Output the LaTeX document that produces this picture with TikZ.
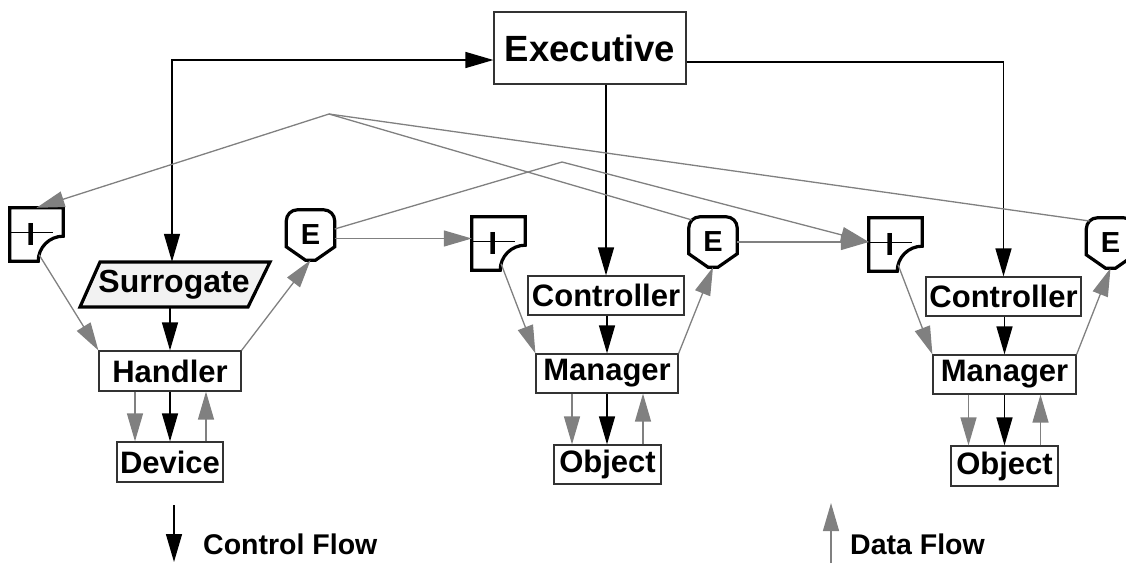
\documentclass[tikz,border=0pt]{standalone}
\usepackage{fontspec}
\setmainfont{Liberation Sans}
\usetikzlibrary{arrows.meta}
\definecolor{dgrey}{HTML}{808080}
\definecolor{sfill}{HTML}{F2F2F2}
\newcommand\fExec{\fontsize{36.5pt}{36.5pt}\selectfont\bfseries}
\newcommand\fLbl{\fontsize{31pt}{31pt}\selectfont\bfseries}
\newcommand\fSur{\fontsize{32pt}{32pt}\selectfont\bfseries}
\newcommand\fSym{\fontsize{29pt}{29pt}\selectfont\bfseries}
\newcommand\fIsym{\fontsize{32pt}{32pt}\selectfont\bfseries}
\newcommand\fLeg{\fontsize{28.5pt}{28.5pt}\selectfont\bfseries}
\tikzset{
  box/.style={draw=black!80, line width=1.2pt, inner sep=0pt, font=\fLbl},
  sym/.style={draw=black, line width=3.2pt},
  isym/.style={draw=none, inner sep=0pt, minimum width=53pt, minimum height=53pt},
  esym/.style={draw=none, inner sep=0pt, minimum width=48pt, minimum height=50pt, font=\fSym},
  ctl/.style={draw=black, line width=1.4pt, -{Triangle[length=28pt,width=16pt]}},
  ctlboth/.style={draw=black, line width=1.4pt, {Triangle[length=28pt,width=16pt]}-{Triangle[length=28pt,width=16pt]}},
  dat/.style={draw=dgrey, line width=1.3pt, -{Triangle[length=28pt,width=16pt]}},
  dline/.style={draw=dgrey, line width=1.3pt},
  leg/.style={inner sep=0pt, anchor=base west, font=\fLeg},
}
\newcommand\drawE[1]{%
  \draw[sym] ([yshift=-37pt]#1.north west) -- ([yshift=-11pt]#1.north west)
    arc[start angle=180,end angle=90,radius=11pt] -- ([xshift=-11pt]#1.north east)
    arc[start angle=90,end angle=0,radius=11pt] -- ([yshift=-37pt]#1.north east)
    -- ([xshift=5pt]#1.south) -- ([xshift=-5pt]#1.south) -- cycle;}
\newcommand\drawI[1]{%
  \draw[sym] (#1.north west) -- (#1.north east) -- ([yshift=25pt]#1.south east)
    arc[start angle=90,end angle=180,radius=25pt] -- (#1.south west) -- cycle;
  \draw[black, line width=1.2pt] ([yshift=-25pt]#1.north west) -- ([xshift=43pt,yshift=-25pt]#1.north west);
  \node[inner sep=0pt, font=\fIsym] (#1t) at ([xshift=21pt,yshift=-27pt]#1.north west) {I};}
\begin{document}
\begin{tikzpicture}[x=1pt,y=1pt]
\useasboundingbox (0,0) rectangle (1126,-563);
% boxes
\node[box, minimum width=192pt, minimum height=72pt, font=\fExec] (exec) at (590,-48) {Executive};
\node[box, minimum width=142pt, minimum height=40pt] (handler) at (170,-371) {Handler};
\node[box, minimum width=106pt, minimum height=40pt] (device) at (170,-462) {Device};
\node[box, minimum width=156pt, minimum height=39pt] (ctrl1) at (606,-295.5) {Controller};
\node[box, minimum width=142pt, minimum height=39pt] (mgr1) at (607,-373.5) {Manager};
\node[box, minimum width=107pt, minimum height=39pt] (obj1) at (607.5,-464.5) {Object};
\node[box, minimum width=155pt, minimum height=39pt] (ctrl2) at (1003.5,-296.5) {Controller};
\node[box, minimum width=143pt, minimum height=39pt] (mgr2) at (1004.5,-374.5) {Manager};
\node[box, minimum width=107pt, minimum height=40pt] (obj2) at (1004.5,-466) {Object};
% surrogate
\coordinate (surc) at (172,-284.5);
\draw[sym, fill=sfill] ([shift={(-72pt,22.5pt)}]surc) -- ([shift={(98pt,22.5pt)}]surc)
  -- ([shift={(76pt,-22.5pt)}]surc) -- ([shift={(-92pt,-22.5pt)}]surc) -- cycle;
\node[inner sep=0pt, minimum width=150pt, minimum height=45pt, font=\fSur] (sur) at ([xshift=2pt]surc) {Surrogate};
% input / export symbols
\node[isym] (i1) at (36.5,-234.5) {};
\node[isym] (i2) at (498.5,-243.5) {};
\node[isym] (i3) at (895.5,-244.5) {};
\drawI{i1}\drawI{i2}\drawI{i3}
\node[esym] (e1) at (310.5,-235) {E};
\node[esym] (e2) at (713,-242) {E};
\node[esym] (e3) at (1110.5,-243) {E};
\drawE{e1}\drawE{e2}\drawE{e3}
% control flow
\draw[ctlboth] ([yshift=-12pt]exec.west) -| (surc |- sur.north);
\draw[ctl] (exec.south -| ctrl1.north) -- (ctrl1.north);
\draw[ctl] ([yshift=-14pt]exec.east) -| (ctrl2.north);
\draw[ctl] (sur.south -| handler.north) -- (handler.north);
\draw[ctl] (handler.south) -- (device.north);
\draw[ctl] (mgr1.north |- ctrl1.south) -- (mgr1.north);
\draw[ctl] (mgr1.south) -- (mgr1.south |- obj1.north);
\draw[ctl] (mgr2.north |- ctrl2.south) -- (mgr2.north);
\draw[ctl] (mgr2.south) -- (mgr2.south |- obj2.north);
% data flow, local
\draw[dat] ([xshift=-35pt]handler.south) -- ([xshift=-35pt]handler.south |- device.north);
\draw[dat] ([xshift=36pt]handler.south |- device.north) -- ([xshift=36pt]handler.south);
\draw[dat] ([xshift=-35pt]mgr1.south) -- ([xshift=-35pt]mgr1.south |- obj1.north);
\draw[dat] ([xshift=36pt]mgr1.south |- obj1.north) -- ([xshift=36pt]mgr1.south);
\draw[dat] ([xshift=-36pt]mgr2.south) -- ([xshift=-36pt]mgr2.south |- obj2.north);
\draw[dat] ([xshift=36pt]mgr2.south |- obj2.north) -- ([xshift=36pt]mgr2.south);
\draw[dat] ([shift={(165:25pt)}]i1.south east) -- (handler.north west);
\draw[dat] (handler.north east) -- (e1.south);
\draw[dat] ([shift={(165:25pt)}]i2.south east) -- (mgr1.north west);
\draw[dat] (mgr1.north east) -- (e2.south);
\draw[dat] ([shift={(165:25pt)}]i3.south east) -- (mgr2.north west);
\draw[dat] (mgr2.north east) -- (e3.south);
% data flow, between units
\coordinate (p1) at (329,-114);
\coordinate (p2) at (562,-162);
\draw[dat] ([yshift=-3.5pt]e1.east) -- ([yshift=-3.5pt]e1.east -| i2.west);
\draw[dat] (e2.east) -- (e2.east -| i3.west);
\draw[dat] ([yshift=6pt]e1.east) -- (p2) -- ([yshift=2.5pt]i3.west);
\draw[dat] ([shift={(3.2pt,-3.2pt)}]e2.north west) -- (p1) -- (i1.north);
\draw[dline] ([shift={(3.2pt,-3.2pt)}]e3.north west) -- (p1);
% legend
\coordinate (cfa) at (174,-505);
\coordinate (cfb) at (174,-562);
\draw[ctl] (cfa) -- (cfb);
\node[leg] (cft) at (203,-554) {Control Flow};
\coordinate (dfa) at (831,-563);
\coordinate (dfb) at (831,-503);
\draw[dat] (dfa) -- (dfb);
\node[leg] (dft) at (850,-554) {Data Flow};
\end{tikzpicture}
\end{document}
